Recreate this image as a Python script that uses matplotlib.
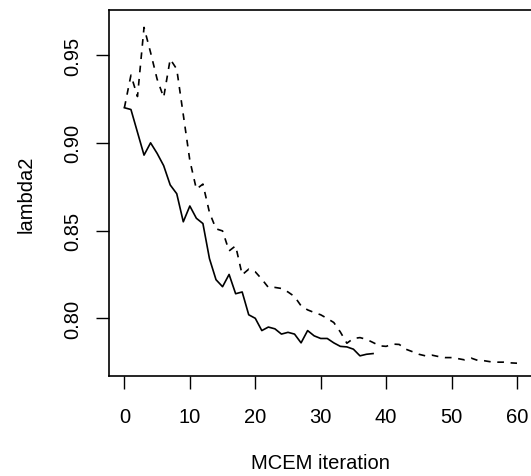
import numpy as np
import matplotlib
matplotlib.use("Agg")
import matplotlib.pyplot as plt

plt.rcParams['font.family'] = ['Liberation Sans', 'DejaVu Sans']

# solid line, iterations 0..38
solid_y = [0.920, 0.919, 0.906, 0.893, 0.900, 0.894, 0.887, 0.876, 0.871, 0.855,
           0.864, 0.857, 0.854, 0.834, 0.822, 0.818, 0.825, 0.814, 0.815, 0.802,
           0.800, 0.793, 0.795, 0.794, 0.791, 0.792, 0.791, 0.786, 0.793, 0.790,
           0.7885, 0.7885, 0.786, 0.784, 0.7837, 0.7824, 0.7786, 0.7795, 0.7799]
# dashed line, iterations 0..60
dashed_y = [0.920, 0.9386, 0.9264, 0.9658, 0.9515, 0.9363, 0.9259, 0.9477, 0.942, 0.916,
            0.890, 0.8736, 0.8765, 0.8603, 0.851, 0.8498, 0.8384, 0.8413, 0.8248, 0.828,
            0.8265, 0.8223, 0.8176, 0.8176, 0.8170, 0.815, 0.8124, 0.8071, 0.8048, 0.8033,
            0.802, 0.7999, 0.7976, 0.7922, 0.7858, 0.7885, 0.789, 0.788, 0.7862, 0.7843,
            0.784, 0.7853, 0.7851, 0.7824, 0.781, 0.7795, 0.7786, 0.779, 0.7782, 0.7776,
            0.7776, 0.777, 0.7763, 0.7773, 0.776, 0.7758, 0.7752, 0.775, 0.775, 0.7746,
            0.7744]
solid_x = np.arange(len(solid_y))
dashed_x = np.arange(len(dashed_y))

xticks = [0, 10, 20, 30, 40, 50, 60]
yticks = [0.80, 0.85, 0.90, 0.95]

fig = plt.figure(figsize=(5.31, 4.77), dpi=100)
ax = fig.add_axes([0.2047, 0.2096, 0.7985, 0.7673])

ax.plot(solid_x, solid_y, color='black', lw=1.2)
ax.plot(dashed_x, dashed_y, color='black', lw=1.2, linestyle=(0, (4, 4)))

ax.set_xlim(-2.4, 62.4)
ax.set_ylim(0.7671, 0.9757)
ax.set_xticks(xticks)
ax.set_xticklabels([str(t) for t in xticks])
ax.set_yticks(yticks)
ax.set_yticklabels(['%.2f' % t for t in yticks], rotation=90, va='center')

for s in ax.spines.values():
    s.set_linewidth(1.2)
ax.tick_params(axis='both', direction='out', length=9.4, width=1.0, labelsize=14.5)
ax.tick_params(axis='x', pad=13)
ax.tick_params(axis='y', pad=10)

ax.set_xlabel('MCEM iteration', fontsize=14.5, va='center')
ax.xaxis.set_label_coords(0.5, (377 - 463) / 366.0)
ax.set_ylabel('lambda2', fontsize=14.5, va='center')
ax.yaxis.set_label_coords((26 - 108.7) / 424.0, 0.5)

fig.savefig('out.png', dpi=100)
